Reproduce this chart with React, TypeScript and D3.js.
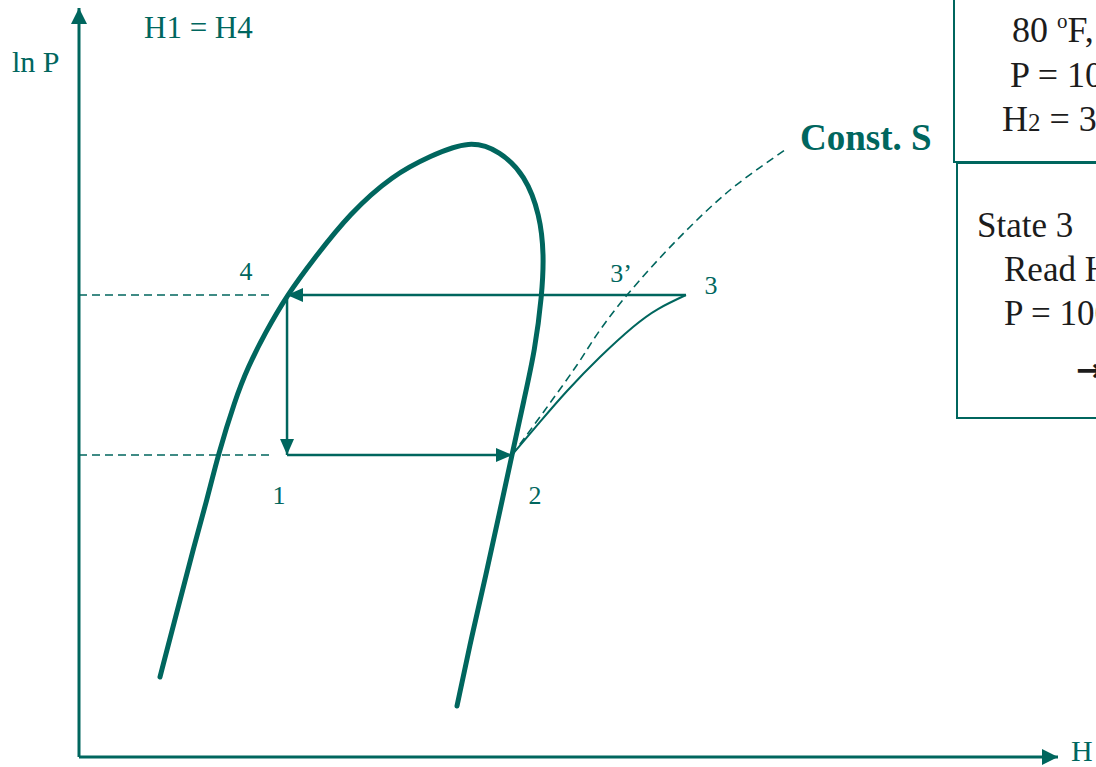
import React from "react";
import * as d3 from "d3";

// Plot frame: enthalpy H along x, ln P along y (arbitrary units 0..100)
const W = 1096;
const H = 767;

// Saturation dome (liquid line up over the critical point, down the vapour line)
const domeH = [8.27, 10.32, 11.64, 13.07, 14.2, 15.93, 17.26, 19.0, 21.25, 23.9, 27.68, 32.07, 35.85, 39.94, 43.0, 45.56, 47.09, 47.5, 47.29, 46.58, 45.45, 44.23, 42.9, 41.57, 40.14, 38.61];
const domeLnP = [10.68, 20.96, 27.64, 34.31, 40.32, 47.66, 52.07, 56.61, 61.68, 66.36, 72.63, 77.7, 80.24, 82.38, 80.91, 77.7, 72.36, 67.02, 61.68, 54.34, 47.66, 40.32, 32.31, 24.3, 16.29, 6.81];

// Actual compression 2 -> 3
const compH = [44.23, 47.09, 49.85, 53.22, 56.59, 59.14, 62.0];
const compLnP = [40.32, 44.73, 48.86, 53.4, 57.41, 59.81, 61.68];

// Isentrope through state 2 (Const. S)
const isoSH = [44.23, 47.6, 50.87, 53.22, 55.98, 61.08, 66.5, 72.11];
const isoSLnP = [40.32, 46.33, 52.34, 57.01, 61.68, 69.03, 75.7, 81.04];

// Cycle states
const H1 = 21.25; // H1 = H4
const H2 = 44.23;
const H3 = 62.0;
const H3s = 55.98;
const P_low = 40.32;
const P_high = 61.68;

// Text blocks on the right
const box1Lines = ["80 ", "P = 100 psia", "H"];
const box2Lines = ["State 3", "Read H", "P = 100 psia", "\u2192"];

const TEAL = "#00665E";
const INK = "#1c1c1c";
const FONT = "'Liberation Serif', 'Times New Roman', serif";

export default function App() {
  const x = d3.scaleLinear().domain([0, 100]).range([79, 1058]);
  const y = d3.scaleLinear().domain([0, 100]).range([757, 8]);

  const curve = (hs: number[], ps: number[], c: d3.CurveFactory) =>
    d3
      .line<number>()
      .x((_, i) => x(hs[i]))
      .y((_, i) => y(ps[i]))
      .curve(c)(hs.map((_, i) => i)) || "";

  const domePath = curve(domeH, domeLnP, d3.curveBasis);
  const compPath = curve(compH, compLnP, d3.curveNatural);
  const isoSPath = curve(isoSH, isoSLnP, d3.curveCatmullRom.alpha(0.5));

  return (
    <svg
      width={W}
      height={H}
      style={{ position: "fixed", left: 0, top: 0, background: "#fff" }}
      fontFamily={FONT}
    >
      <defs>
        <marker id="ah" markerUnits="userSpaceOnUse" markerWidth={18} markerHeight={16} refX={16} refY={7} orient="auto">
          <path d="M0,0 L16,7 L0,14 Z" fill={TEAL} />
        </marker>
        <marker id="axh" markerUnits="userSpaceOnUse" markerWidth={18} markerHeight={18} refX={16} refY={8} orient="auto">
          <path d="M0,0 L16,8 L0,16 Z" fill={TEAL} />
        </marker>
      </defs>

      {/* axes */}
      <line x1={x(0)} y1={y(0)} x2={x(0)} y2={y(100)} stroke={TEAL} strokeWidth={3} markerEnd="url(#axh)" />
      <line x1={x(0)} y1={y(0)} x2={x(100)} y2={y(0)} stroke={TEAL} strokeWidth={3} markerEnd="url(#axh)" />
      <text x={12} y={72} fill={TEAL} fontSize={30}>ln P</text>
      <text x={1071} y={761} fill={TEAL} fontSize={30}>H</text>
      <text x={144} y={38} fill={TEAL} fontSize={31}>H1 = H4</text>

      {/* pressure guides */}
      <line x1={x(0)} y1={y(P_high)} x2={x(H1) - 16} y2={y(P_high)} stroke={TEAL} strokeWidth={1.6} strokeDasharray="8 5" />
      <line x1={x(0)} y1={y(P_low)} x2={x(H1) - 16} y2={y(P_low)} stroke={TEAL} strokeWidth={1.6} strokeDasharray="8 5" />

      {/* saturation dome */}
      <path d={domePath} fill="none" stroke={TEAL} strokeWidth={5} strokeLinecap="round" strokeLinejoin="round" />

      {/* isentrope and actual compression */}
      <path d={isoSPath} fill="none" stroke={TEAL} strokeWidth={1.6} strokeDasharray="8 5" />
      <path d={compPath} fill="none" stroke={TEAL} strokeWidth={2} />

      {/* cycle: 3 -> 4 -> 1 -> 2 */}
      <line x1={x(H3)} y1={y(P_high)} x2={x(H1)} y2={y(P_high)} stroke={TEAL} strokeWidth={2.5} markerEnd="url(#ah)" />
      <line x1={x(H1)} y1={y(P_high)} x2={x(H1)} y2={y(P_low)} stroke={TEAL} strokeWidth={2.5} markerEnd="url(#ah)" />
      <line x1={x(H1)} y1={y(P_low)} x2={x(H2)} y2={y(P_low)} stroke={TEAL} strokeWidth={2.5} markerEnd="url(#ah)" />

      {/* state labels */}
      <g fill={TEAL} fontSize={26} textAnchor="middle">
        <text x={x(H1) - 41} y={y(P_high) - 15}>4</text>
        <text x={x(H1) - 8} y={y(P_low) + 49}>1</text>
        <text x={x(H2) + 23} y={y(P_low) + 49}>2</text>
        <text x={x(H3s) - 6} y={y(P_high) - 13}>3’</text>
        <text x={x(H3) + 25} y={y(P_high) - 1}>3</text>
      </g>
      <text x={800} y={150} fill={TEAL} fontSize={37} fontWeight="bold">Const. S</text>

      {/* upper text box */}
      <rect x={954} y={-10} width={200} height={172} fill="none" stroke={TEAL} strokeWidth={2} />
      <g fill={INK} fontSize={36}>
        <text x={1012} y={42}>
          {box1Lines[0]}
          <tspan fontSize={21} dy={-14}>o</tspan>
          <tspan dy={14}>F, sat. vapor</tspan>
        </text>
        <text x={1010} y={87}>{box1Lines[1]}</text>
        <text x={1002} y={131}>
          {box1Lines[2]}
          <tspan fontSize={25}>2</tspan>
          <tspan> = 37.0</tspan>
        </text>
      </g>

      {/* lower text box */}
      <rect x={957} y={163} width={200} height={255} fill="none" stroke={TEAL} strokeWidth={2} />
      <g fill={INK} fontSize={35}>
        <text x={977} y={237}>{box2Lines[0]}</text>
        <text x={1004} y={281}>{box2Lines[1]}</text>
        <text x={1004} y={325}>{box2Lines[2]}</text>
        <text x={1076} y={381} fontSize={32} fontWeight="bold" fontFamily="'DejaVu Sans', sans-serif">{box2Lines[3]}</text>
      </g>
    </svg>
  );
}
